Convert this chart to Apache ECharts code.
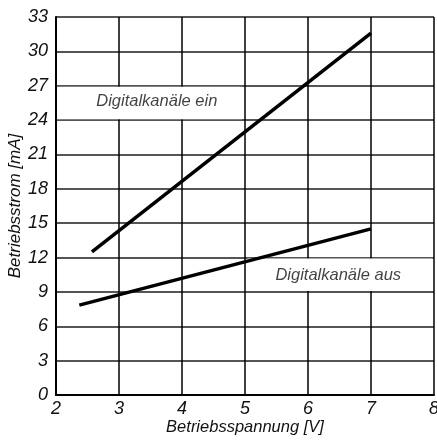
<!DOCTYPE html>
<html>
<head>
<meta charset="utf-8">
<script src="https://cdn.jsdelivr.net/npm/echarts@6/dist/echarts.min.js"></script>
<style>
  html, body { margin: 0; padding: 0; background: #fff; }
  #chart { width: 437px; height: 444px; }
</style>
</head>
<body>
<div id="chart"></div>
<script>
// Supply current vs. operating voltage
const xTicks = [2, 3, 4, 5, 6, 7, 8];
const yTicks = [0, 3, 6, 9, 12, 15, 18, 21, 24, 27, 30, 33];
const voltageEin = [2.57, 7.0];
const currentEin = [12.5, 31.6];
const voltageAus = [2.37, 7.0];
const currentAus = [7.85, 14.5];
const labelEin = ['Digitalkanäle ein', 3.6, 25.6];
const labelAus = ['Digitalkanäle aus', 6.48, 10.45];
// white boxes behind the annotations: [x0, y0, x1, y1]
const boxEin = [2.02, 24.08, 4.95, 26.92];
const boxAus = [5.04, 9.08, 7.98, 11.92];

const FONT = '"Liberation Sans", Arial, sans-serif';
const chart = echarts.init(document.getElementById('chart'), null, { renderer: 'canvas' });

const pairs = (xs, ys) => xs.map((x, i) => [x, ys[i]]);
const area = b => [{ coord: [b[0], b[1]] }, { coord: [b[2], b[3]] }];

chart.setOption({
  animation: false,
  backgroundColor: '#fff',
  grid: { left: 56, right: 3, top: 17, bottom: 49, containLabel: false, outerBoundsMode: 'none' },
  xAxis: {
    type: 'value',
    min: xTicks[0], max: xTicks[xTicks.length - 1], interval: 1,
    name: 'Betriebsspannung [V]',
    nameLocation: 'middle', nameGap: 24, nameMoveOverlap: false,
    nameTextStyle: { fontFamily: FONT, fontStyle: 'italic', fontSize: 16.5, color: '#111' },
    axisLine: { show: true, lineStyle: { color: '#000', width: 2 } },
    axisTick: { show: false },
    axisLabel: { fontFamily: FONT, fontStyle: 'italic', fontSize: 18, color: '#111', margin: 5 },
    splitLine: { show: true, lineStyle: { color: '#000', width: 1.5 } }
  },
  yAxis: {
    type: 'value',
    min: yTicks[0], max: yTicks[yTicks.length - 1], interval: 3,
    name: 'Betriebsstrom [mA]',
    nameLocation: 'middle', nameGap: 32, nameRotate: 90, nameMoveOverlap: false,
    nameTextStyle: { fontFamily: FONT, fontStyle: 'italic', fontSize: 17, color: '#111' },
    axisLine: { show: true, lineStyle: { color: '#000', width: 2 } },
    axisTick: { show: false },
    axisLabel: { fontFamily: FONT, fontStyle: 'italic', fontSize: 18, color: '#111', margin: 8 },
    splitLine: { show: true, lineStyle: { color: '#555', width: 2 } }
  },
  series: [
    {
      type: 'line', data: pairs(voltageEin, currentEin), z: 3,
      symbol: 'none', lineStyle: { color: '#000', width: 3.5, cap: 'butt' }
    },
    {
      type: 'line', data: pairs(voltageAus, currentAus), z: 3,
      symbol: 'none', lineStyle: { color: '#000', width: 3.5, cap: 'butt' }
    },
    {
      type: 'scatter', symbolSize: 0, silent: true, z: 2,
      data: [
        { value: [labelEin[1], labelEin[2]], name: labelEin[0] },
        { value: [labelAus[1], labelAus[2]], name: labelAus[0] }
      ],
      label: {
        show: true, position: 'inside', formatter: p => p.name,
        fontFamily: FONT, fontStyle: 'italic', fontSize: 16.5, color: '#111'
      },
      markArea: {
        silent: true,
        itemStyle: { color: '#fff', opacity: 1 },
        data: [area(boxEin), area(boxAus)]
      }
    }
  ]
});
</script>
</body>
</html>
